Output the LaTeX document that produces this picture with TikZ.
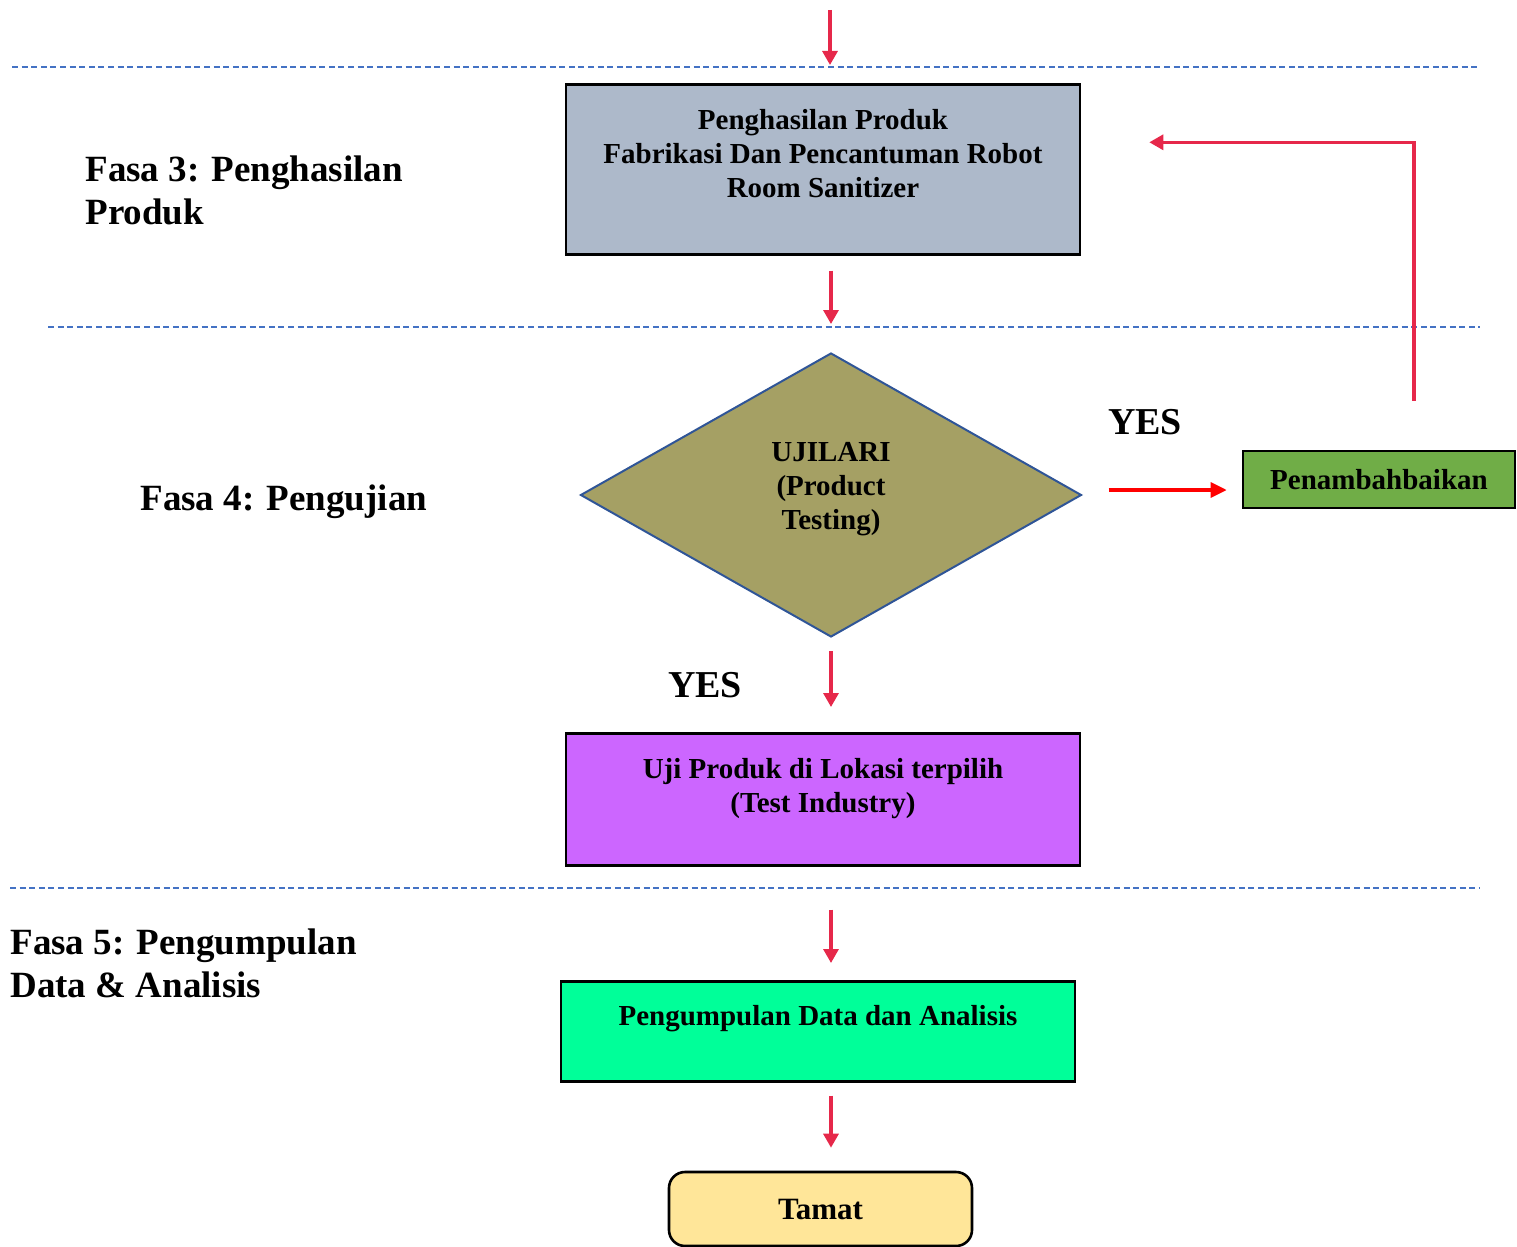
\documentclass[tikz,border=0pt]{standalone}
\usepackage{fontspec}
\setmainfont{Liberation Serif}
\usetikzlibrary{shapes.geometric,arrows.meta,calc}
\definecolor{prodgray}{HTML}{ADB9CA}
\definecolor{ujiolive}{HTML}{A5A064}
\definecolor{ujiedge}{HTML}{2F5597}
\definecolor{baikgreen}{HTML}{70AD47}
\definecolor{testpurple}{HTML}{CC66FF}
\definecolor{datagreen}{HTML}{00FF99}
\definecolor{tamatyellow}{HTML}{FFE699}
\definecolor{flowred}{HTML}{E6284A}
\definecolor{yesred}{HTML}{FF0000}
\definecolor{phaseblue}{HTML}{4472C4}
\newcommand{\lowstrut}[1][16pt]{\rule[-#1]{0pt}{#1}}

\begin{document}
\begin{tikzpicture}[x=0.5pt,y=-0.5pt,
	every node/.style={font=\bfseries\fontsize{14.5}{17}\selectfont},
	procbox/.style={draw, line width=1.3pt, anchor=north, align=center, inner ysep=12pt, minimum width=257pt},
	flow/.style={draw=flowred, line width=1.6pt, -{Triangle[length=7pt,width=7.5pt]}},
	phase/.style={anchor=west, align=left, inner sep=0pt, font=\bfseries\fontsize{18.5}{21.5}\selectfont},
	yeslabel/.style={inner sep=0pt, font=\bfseries\fontsize{19}{22}\selectfont},
	divider/.style={phaseblue, line width=0.6pt, dash pattern=on 3pt off 1.8pt}]

			\useasboundingbox (0,0) rectangle (1517,1247);

			% Phase dividers
			\draw[divider] (12,67) -- (1480,67);
			\draw[divider] (48,327) -- (1480,327);
			\draw[divider] (10,888) -- (1480,888);

			% Phase titles
			\node[phase] (f3) at (85,190) {Fasa 3: Penghasilan\\Produk};
			\node[phase] (f4) at (140,502) {Fasa 4: Pengujian};
			\node[phase] (f5) at (10,963) {Fasa 5: Pengumpulan\\Data \& Analisis};

			% Process steps
			\node[procbox, fill=prodgray, minimum height=85pt] (prod) at (823,83) {Penghasilan Produk\\Fabrikasi Dan Pencantuman Robot\\Room Sanitizer\lowstrut};
			\node[diamond, draw=ujiedge, line width=1pt, fill=ujiolive, aspect=1.76, minimum width=250.5pt, minimum height=142pt, inner sep=0pt, align=center] (test) at (831,495) {UJILARI\\(Product\\Testing)\rule[-9pt]{0pt}{9pt}};
			\node[draw, line width=1.3pt, fill=baikgreen, minimum width=136pt, minimum height=28.5pt] (pen) at (1379,479.5) {Penambahbaikan};
			\node[procbox, fill=testpurple, minimum height=66pt, inner ysep=11.5pt] (uji) at (823,732) {Uji Produk di Lokasi terpilih\\(Test Industry)\lowstrut[14pt]};
			\node[procbox, fill=datagreen, minimum height=50pt] (data) at (818,980) {Pengumpulan Data dan Analisis\lowstrut};
			\node[draw, line width=1.3pt, rounded corners=8pt, fill=tamatyellow, minimum width=151.5pt, minimum height=37pt, font=\bfseries\fontsize{15.5}{18}\selectfont] (tamat) at (820.5,1209) {Tamat};

			% YES labels
			\node[yeslabel] (yes1) at (1145,422) {YES};
			\node[yeslabel] (yes2) at (705,685) {YES};

			% Main flow
			\coordinate (entry) at (830,10);
			\draw[flow, shorten >=9pt] (entry) -- (entry |- prod.north);
			\draw[flow, shorten <=7.5pt, shorten >=14pt] (test.north |- prod.south) -- (test.north);
			\draw[flow, shorten <=6.5pt, shorten >=12.5pt] (test.south) -- (test.south |- uji.north);
			\draw[flow, shorten <=21.5pt, shorten >=8.5pt] (test.south |- uji.south) -- (test.south |- data.north);
			\draw[flow, shorten <=6.5pt, shorten >=11.5pt] (test.south |- data.south) -- (test.south |- tamat.north);

			% Improvement loop
			\draw[flow, draw=yesred, -{Triangle[length=8pt,width=7.5pt]}, shorten <=13pt, shorten >=7.5pt] ([yshift=2.5pt]test.east) -- ([yshift=2.5pt]test.east -| pen.west);
			\draw[flow, shorten <=24.5pt] ([xshift=17.5pt]pen.north) |- ([xshift=34pt,yshift=13.5pt]prod.east);
		\end{tikzpicture}
\end{document}
